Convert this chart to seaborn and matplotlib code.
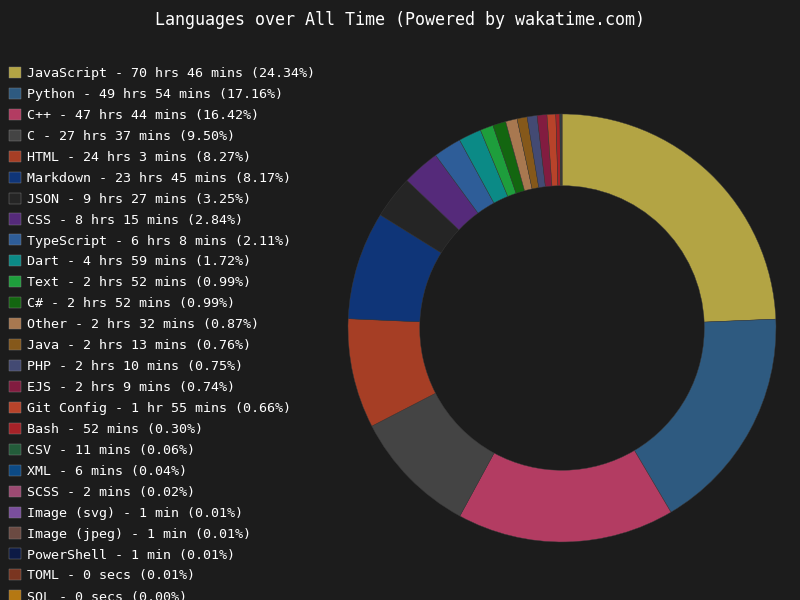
import matplotlib
matplotlib.use('Agg')
import matplotlib.pyplot as plt
import seaborn as sns
from matplotlib.patches import Patch

sns.set_theme(style='dark')
plt.rcParams['font.family'] = ['DejaVu Sans Mono']

languages = ['JavaScript', 'Python', 'C++', 'C', 'HTML', 'Markdown', 'JSON', 'CSS',
             'TypeScript', 'Dart', 'Text', 'C#', 'Other', 'Java', 'PHP', 'EJS',
             'Git Config', 'Bash', 'CSV', 'XML', 'SCSS', 'Image (svg)', 'Image (jpeg)',
             'PowerShell', 'TOML', 'SQL']
durations = ['70 hrs 46 mins', '49 hrs 54 mins', '47 hrs 44 mins', '27 hrs 37 mins',
             '24 hrs 3 mins', '23 hrs 45 mins', '9 hrs 27 mins', '8 hrs 15 mins',
             '6 hrs 8 mins', '4 hrs 59 mins', '2 hrs 52 mins', '2 hrs 52 mins',
             '2 hrs 32 mins', '2 hrs 13 mins', '2 hrs 10 mins', '2 hrs 9 mins',
             '1 hr 55 mins', '52 mins', '11 mins', '6 mins', '2 mins', '1 min',
             '1 min', '1 min', '0 secs', '0 secs']
percents = [24.34, 17.16, 16.42, 9.50, 8.27, 8.17, 3.25, 2.84, 2.11, 1.72, 0.99, 0.99,
            0.87, 0.76, 0.75, 0.74, 0.66, 0.30, 0.06, 0.04, 0.02, 0.01, 0.01, 0.01,
            0.01, 0.00]
colors = ['#b3a444', '#2e5a80', '#b33c62', '#444444', '#a63e25', '#0f3578', '#252525',
          '#552a7a', '#2e5d98', '#0b8a86', '#1e9e3c', '#136610', '#a87850', '#85581a',
          '#434a73', '#821c40', '#b8432a', '#a62228', '#235c3a', '#0c4a85', '#9c4a72',
          '#7a4e9c', '#6b4a42', '#0c1a45', '#7a3520', '#b57812']

bg = '#1c1c1c'
fig = plt.figure(figsize=(8, 6), dpi=100, facecolor=bg)
fig.text(0.5, 0.967, 'Languages over All Time (Powered by wakatime.com)',
         ha='center', va='center', color='white', fontsize=12)

ax = fig.add_axes([0.435, 0.0967, 0.535, 0.7133])
ax.set_facecolor(bg)
ax.pie(percents, colors=colors, startangle=90, counterclock=False,
       wedgeprops=dict(width=0.335, edgecolor='#3a3a3a', linewidth=0.3))
ax.set_xlim(-1, 1)
ax.set_ylim(-1, 1)
ax.set_aspect('equal')
ax.axis('off')

handles = [Patch(facecolor=c, edgecolor='#888888', linewidth=0.3) for c in colors]
labels = [f'{l} - {d} ({p:.2f}%)' for l, d, p in zip(languages, durations, percents)]
leg = fig.legend(handles, labels, loc='upper left', bbox_to_anchor=(0.0, 0.904),
                 frameon=False, fontsize=9.6, labelspacing=0.585, handlelength=0.9,
                 handleheight=0.9, handletextpad=0.4, borderaxespad=0.3)
for t in leg.get_texts():
    t.set_color('white')

fig.savefig('out.png', facecolor=bg)
